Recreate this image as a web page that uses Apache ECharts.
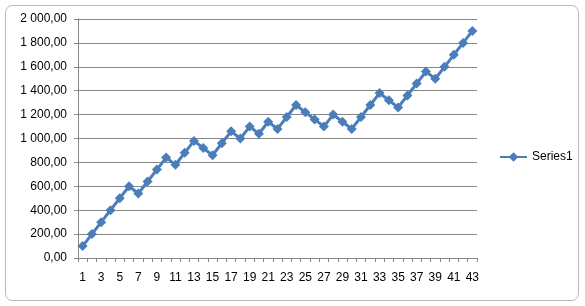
<!DOCTYPE html>
<html>
<head>
<meta charset="utf-8">
<script src="https://cdn.jsdelivr.net/npm/echarts@6/dist/echarts.min.js"></script>
<style>html,body{margin:0;padding:0;background:#fff}#c{width:585px;height:306px}</style>
</head>
<body>
<div id="c"></div>
<script>
var categories = ['1','2','3','4','5','6','7','8','9','10','11','12','13','14','15','16','17','18','19','20','21','22','23','24','25','26','27','28','29','30','31','32','33','34','35','36','37','38','39','40','41','42','43'];
var series1 = [100,200,300,400,500,600,540,640,740,840,780,880,980,920,860,960,1060,1000,1100,1040,1140,1080,1180,1280,1220,1160,1100,1200,1140,1080,1180,1280,1380,1320,1260,1360,1460,1560,1500,1600,1700,1800,1900];
var seriesName = 'Series1';

function fmt(v){
  var s = v.toFixed(2).split('.');
  var i = s[0].replace(/\B(?=(\d{3})+(?!\d))/g, ' ');
  return i + ',' + s[1];
}

var chart = echarts.init(document.getElementById('c'));
var font = 'Liberation Sans';
chart.setOption({
  animation: false,
  backgroundColor: '#ffffff',
  textStyle: {fontFamily: font},
  graphic: [{
    type: 'rect', z: -10, silent: true,
    shape: {x: 5.5, y: 5.5, width: 573, height: 295, r: 7},
    style: {fill: '#ffffff', stroke: '#b9b9b9', lineWidth: 1}
  }],
  grid: {left: 78, right: 108, top: 19, bottom: 48},
  legend: {
    data: [seriesName],
    left: 494, top: 146,
    itemWidth: 27, itemHeight: 12, itemGap: 0,
    textStyle: {fontFamily: font, fontSize: 12, color: '#000'}
  },
  xAxis: {
    type: 'category',
    data: categories,
    boundaryGap: true,
    axisLine: {lineStyle: {color: '#868686', width: 1}},
    axisTick: {show: true, interval: 0, length: 4, lineStyle: {color: '#868686'}},
    axisLabel: {interval: 1, margin: 14, fontSize: 12, color: '#000', fontFamily: font},
    splitLine: {show: false}
  },
  yAxis: {
    type: 'value',
    min: 0, max: 2000, interval: 200,
    axisLine: {show: true, lineStyle: {color: '#868686', width: 1}},
    axisTick: {show: true, length: 4, lineStyle: {color: '#868686'}},
    axisLabel: {formatter: fmt, margin: 11, fontSize: 12, color: '#000', fontFamily: font},
    splitLine: {show: true, lineStyle: {color: '#868686', width: 1}}
  },
  series: [{
    name: seriesName,
    type: 'line',
    data: series1,
    symbol: 'diamond',
    symbolSize: 10,
    showAllSymbol: true,
    itemStyle: {color: '#4a7ebb'},
    lineStyle: {color: '#4a7ebb', width: 3}
  }]
});
</script>
</body>
</html>
